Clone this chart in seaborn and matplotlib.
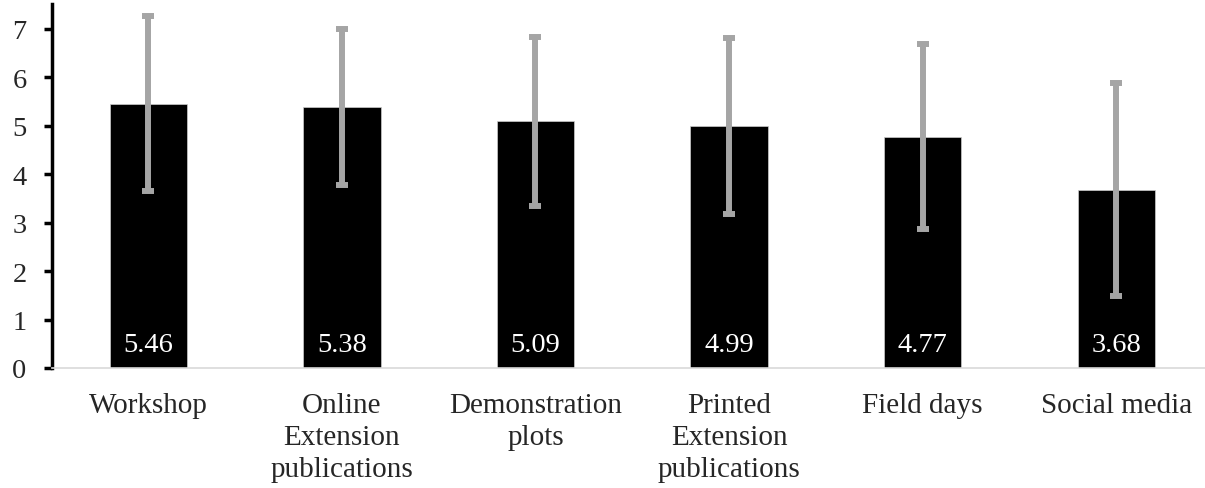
import matplotlib
matplotlib.use("Agg")
import matplotlib.pyplot as plt
import seaborn as sns
import pandas as pd
import numpy as np

categories = ["Workshop", "Online\nExtension\npublications", "Demonstration\nplots",
              "Printed\nExtension\npublications", "Field days", "Social media"]
means = [5.46, 5.38, 5.09, 4.99, 4.77, 3.68]
sds = [1.81, 1.61, 1.75, 1.82, 1.91, 2.20]
yticks = [0, 1, 2, 3, 4, 5, 6, 7]

sns.set_theme(style="white")
plt.rcParams["font.family"] = ["Liberation Serif", "DejaVu Serif"]

df = pd.DataFrame({"cat": categories, "mean": means, "sd": sds})

fig = plt.figure(figsize=(12.05, 4.89), dpi=100)
ax = fig.add_axes([51.5 / 1205, 1 - 369 / 489, 1 - 51.5 / 1205, (369 - 5) / 489])

sns.barplot(data=df, x="cat", y="mean", color="black", width=0.4,
            errorbar=None, saturation=1, ax=ax, edgecolor="#cccccc", linewidth=0.5)

xs = np.arange(len(categories))
ax.errorbar(xs, df["mean"], yerr=df["sd"], fmt="none", ecolor="#A5A5A5",
            elinewidth=4.3, capsize=4.3, capthick=4.3, zorder=3)

for x, v in zip(xs, means):
    ax.text(x, 0.35, f"{v:.2f}", color="white", ha="center", va="baseline",
            fontsize=20.5, zorder=4)

ax.set_xlim(-0.5, -0.5 + (1205 - 51.5) / 193.6)
ax.set_ylim(0, (369 - 5) / 48.43)
ax.set_yticks(yticks)
ax.set_yticklabels([str(t) for t in yticks], fontsize=20.5)
ax.set_xlabel("")
ax.set_ylabel("")
ax.tick_params(axis="x", length=0, labelsize=21, pad=17)
ax.tick_params(axis="y", direction="out", length=6, width=2.5, color="black",
               left=True, pad=12)
for lbl in ax.get_xticklabels():
    lbl.set_verticalalignment("top")
    lbl.set_linespacing(1.32)

for s in ["top", "right"]:
    ax.spines[s].set_visible(False)
ax.spines["left"].set_color("black")
ax.spines["left"].set_linewidth(2.5)
ax.spines["bottom"].set_color("#D9D9D9")
ax.spines["bottom"].set_linewidth(1.2)

fig.savefig("out.png", dpi=100)
